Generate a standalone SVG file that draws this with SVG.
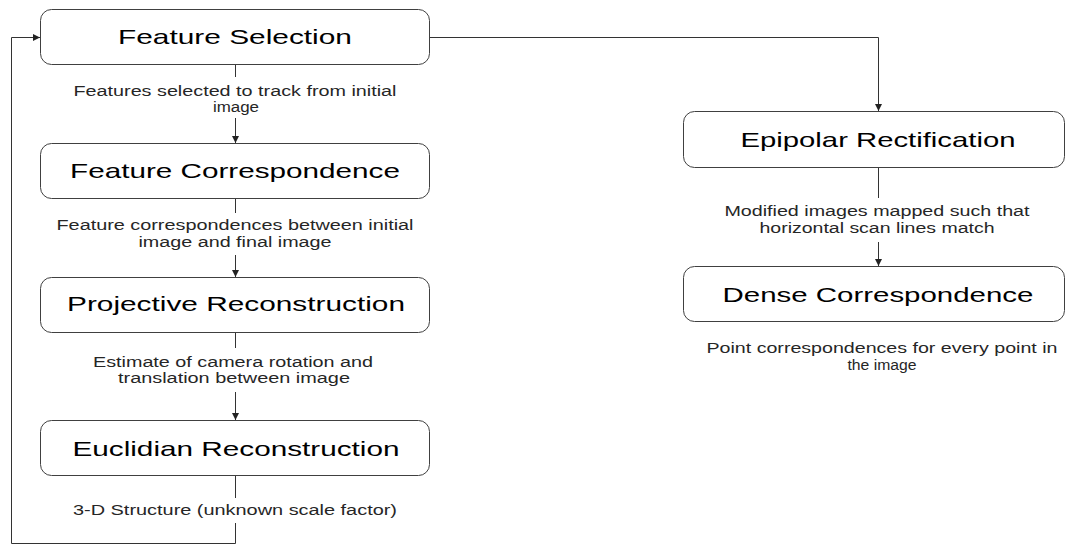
<svg xmlns="http://www.w3.org/2000/svg" width="1066" height="544" viewBox="0 0 1066 544">
<style>
.box{fill:#fff;stroke:#404040;stroke-width:1}
.t{font-family:"Liberation Sans",Arial,sans-serif;font-size:21px;fill:#000;text-anchor:middle}
.l{font-family:"Liberation Sans",Arial,sans-serif;font-size:14px;fill:#262626;text-anchor:middle}
.c{fill:none;stroke:#333;stroke-width:1}
</style>
<defs>
<marker id="ah" markerUnits="userSpaceOnUse" markerWidth="8" markerHeight="8" refX="7" refY="3.5" orient="auto">
<path d="M0,0 L7,3.5 L0,7 z" fill="#222"/>
</marker>
</defs>
<rect width="1066" height="544" fill="#fff"/>
<g id="connectors">
<path class="c" d="M235.5,64 V77"/>
<path class="c" d="M235.5,118 V143" marker-end="url(#ah)"/>
<path class="c" d="M235.5,198 V213"/>
<path class="c" d="M235.5,255 V277" marker-end="url(#ah)"/>
<path class="c" d="M235.5,332 V348"/>
<path class="c" d="M235.5,392 V420" marker-end="url(#ah)"/>
<path class="c" d="M235.5,475 V498"/>
<path class="c" d="M235.5,523 V543.5 H11.5 V37.5 H40" marker-end="url(#ah)"/>
<path class="c" d="M429,37.5 H878.5 V111" marker-end="url(#ah)"/>
<path class="c" d="M878.5,167 V198"/>
<path class="c" d="M878.5,242 V266" marker-end="url(#ah)"/>
<g transform="scale(1.4 1)">
<text class="l" x="167.86" y="96" textLength="230.7" lengthAdjust="spacingAndGlyphs">Features selected to track from initial</text>
<text class="l" x="168.57" y="112" textLength="32.9" lengthAdjust="spacingAndGlyphs">image</text>
<text class="l" x="167.86" y="230" textLength="255" lengthAdjust="spacingAndGlyphs">Feature correspondences between initial</text>
<text class="l" x="167.86" y="247" textLength="137.9" lengthAdjust="spacingAndGlyphs">image and final image</text>
<text class="l" x="166.43" y="367" textLength="200" lengthAdjust="spacingAndGlyphs">Estimate of camera rotation and</text>
<text class="l" x="167.14" y="383" textLength="165.7" lengthAdjust="spacingAndGlyphs">translation between image</text>
<text class="l" x="167.86" y="515" textLength="231.4" lengthAdjust="spacingAndGlyphs">3-D Structure (unknown scale factor)</text>
<text class="l" x="626.43" y="216" textLength="217.9" lengthAdjust="spacingAndGlyphs">Modified images mapped such that</text>
<text class="l" x="626.43" y="233" textLength="167.9" lengthAdjust="spacingAndGlyphs">horizontal scan lines match</text>
<text class="l" x="630" y="353" textLength="250.7" lengthAdjust="spacingAndGlyphs">Point correspondences for every point in</text>
<text class="l" x="630" y="370" textLength="49.3" lengthAdjust="spacingAndGlyphs">the image</text>
</g>
</g>
<g id="feature-selection">
<rect class="box" x="40.5" y="9.5" width="389" height="55" rx="11"/>
<text class="t" transform="scale(1.4 1)" x="167.86" y="44" textLength="167.1" lengthAdjust="spacingAndGlyphs">Feature Selection</text>
</g>
<g id="feature-correspondence">
<rect class="box" x="40.5" y="143.5" width="389" height="55" rx="11"/>
<text class="t" transform="scale(1.4 1)" x="167.86" y="178" textLength="235.7" lengthAdjust="spacingAndGlyphs">Feature Correspondence</text>
</g>
<g id="projective-reconstruction">
<rect class="box" x="40.5" y="277.5" width="389" height="55" rx="11"/>
<text class="t" transform="scale(1.4 1)" x="168.57" y="311" textLength="241.4" lengthAdjust="spacingAndGlyphs">Projective Reconstruction</text>
</g>
<g id="euclidian-reconstruction">
<rect class="box" x="40.5" y="420.5" width="389" height="55" rx="11"/>
<text class="t" transform="scale(1.4 1)" x="168.57" y="456" textLength="233.6" lengthAdjust="spacingAndGlyphs">Euclidian Reconstruction</text>
</g>
<g id="epipolar-rectification">
<rect class="box" x="683.5" y="111.5" width="381" height="56" rx="11"/>
<text class="t" transform="scale(1.4 1)" x="627.14" y="147" textLength="196.4" lengthAdjust="spacingAndGlyphs">Epipolar Rectification</text>
</g>
<g id="dense-correspondence">
<rect class="box" x="683.5" y="266.5" width="381" height="55" rx="11"/>
<text class="t" transform="scale(1.4 1)" x="627.14" y="302" textLength="222.1" lengthAdjust="spacingAndGlyphs">Dense Correspondence</text>
</g>
</svg>
